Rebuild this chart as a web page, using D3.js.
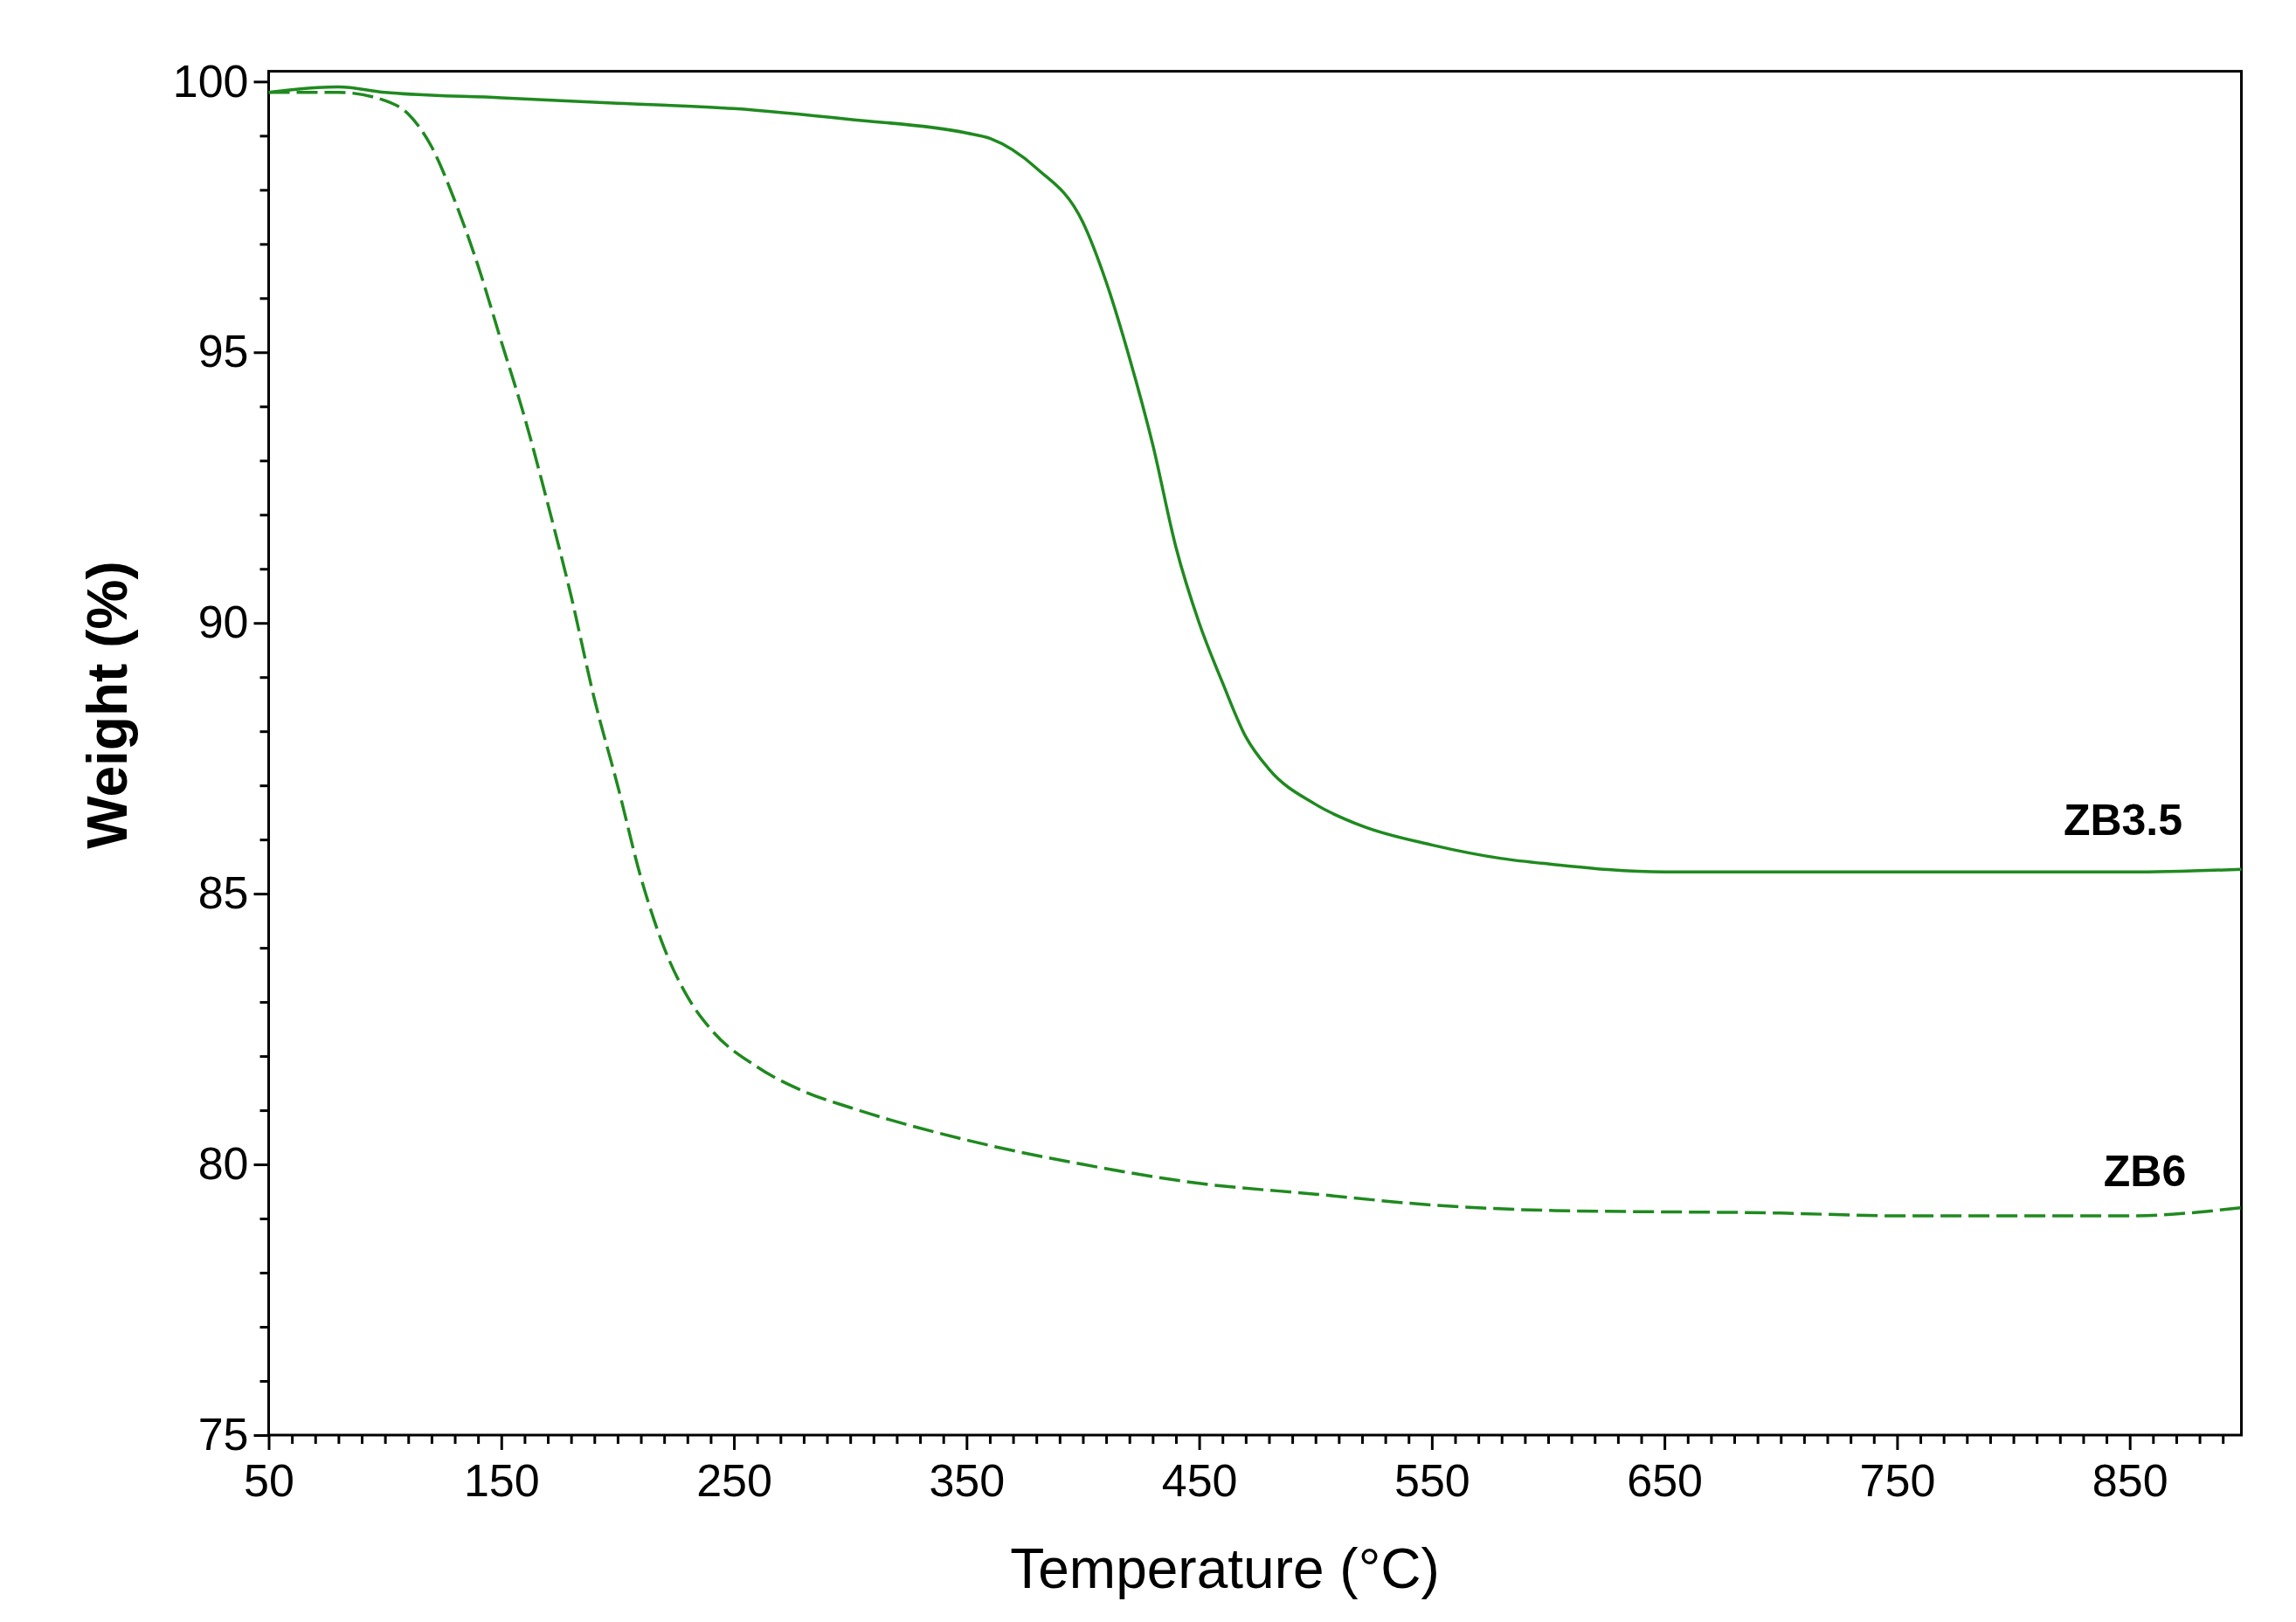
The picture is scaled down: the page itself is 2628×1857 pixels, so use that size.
<!DOCTYPE html>
<html><head><meta charset="utf-8">
<script src="https://cdn.jsdelivr.net/npm/d3@7"></script>
<style>body{margin:0;background:#fff}</style></head>
<body><svg id="c" width="2628" height="1857"></svg>
<script>
const zb35T=[50,60,80,100,150,200,250,300,350,360,380,400,410,420,430,440,450,460,470,480,500,520,550,580,600,650,700,800,850,898];
const zb35W=[99.8,99.85,99.9,99.8,99.7,99.6,99.5,99.3,99.05,98.95,98.4,97.4,96.3,94.9,93.3,91.4,90.0,88.9,87.9,87.3,86.65,86.25,85.9,85.65,85.55,85.4,85.4,85.4,85.4,85.45];
const zb6T=[50,80,100,110,120,130,140,150,160,170,180,190,200,210,220,230,240,260,280,300,350,400,450,500,550,600,700,750,850,898];
const zb6W=[99.8,99.8,99.65,99.4,98.8,97.8,96.6,95.2,93.8,92.2,90.5,88.6,87.0,85.3,84.0,83.1,82.5,81.8,81.35,81.05,80.45,80.0,79.65,79.45,79.25,79.15,79.1,79.05,79.05,79.2];
const xTicks=[50,150,250,350,450,550,650,750,850];
const yTicks=[75,80,85,90,95,100];
const color="#1f8a1f";
const svg=d3.select("#c");
const L=307.5,R=2565.5,T=81.6,B=1643;
const x=d3.scaleLinear().domain([50,898]).range([L,R]);
const y=d3.scaleLinear().domain([75,100.19]).range([B,T]);
const font="'Liberation Sans',Arial,sans-serif";
// frame
svg.append("rect").attr("x",L).attr("y",T).attr("width",R-L).attr("height",B-T).attr("fill","none").attr("stroke","#000").attr("stroke-width",3);
// x axis
const xa=svg.append("g").attr("transform",`translate(0,${B})`).call(d3.axisBottom(x).tickValues(xTicks).tickSize(17).tickPadding(6).tickFormat(d3.format("d")));
svg.append("g").attr("transform",`translate(0,${B})`).call(d3.axisBottom(x).tickValues(d3.range(60,898,10).filter(v=>(v-50)%100!==0)).tickSize(10).tickFormat(""));
const ya=svg.append("g").attr("transform",`translate(${L},0)`).call(d3.axisLeft(y).tickValues(yTicks).tickSize(17).tickPadding(6).tickFormat(d3.format("d")));
svg.append("g").attr("transform",`translate(${L},0)`).call(d3.axisLeft(y).tickValues(d3.range(76,100,1).filter(v=>v%5!==0)).tickSize(10).tickFormat(""));
svg.selectAll(".domain").remove();
svg.selectAll(".tick line").attr("stroke","#000").attr("stroke-width",3);
svg.selectAll(".tick text").attr("font-family",font).attr("font-size",52).attr("fill","#000");
xa.selectAll(".tick text").attr("dy","0.9em");
// lines
const line=d3.line().x(d=>x(d[0])).y(d=>y(d[1])).curve(d3.curveMonotoneX);
svg.append("path").datum(zb35T.map((t,i)=>[t,zb35W[i]])).attr("d",line).attr("fill","none").attr("stroke",color).attr("stroke-width",3.5);
svg.append("path").datum(zb6T.map((t,i)=>[t,zb6W[i]])).attr("d",line).attr("fill","none").attr("stroke",color).attr("stroke-width",3.5).attr("stroke-dasharray","24,8");
// labels
svg.append("text").attr("x",2430).attr("y",956).attr("text-anchor","middle").attr("font-family",font).attr("font-weight","bold").attr("font-size",50).text("ZB3.5");
svg.append("text").attr("x",2455).attr("y",1358).attr("text-anchor","middle").attr("font-family",font).attr("font-weight","bold").attr("font-size",50).text("ZB6");
svg.append("text").attr("x",1402).attr("y",1818).attr("text-anchor","middle").attr("font-family",font).attr("font-size",64).text("Temperature (°C)");
svg.append("text").attr("transform","translate(145,807) rotate(-90)").attr("text-anchor","middle").attr("font-family",font).attr("font-weight","bold").attr("font-size",64).text("Weight (%)");
</script></body></html>
